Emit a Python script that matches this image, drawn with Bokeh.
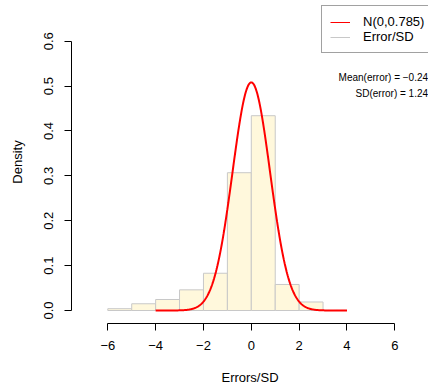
import numpy as np
from bokeh.plotting import figure
from bokeh.models import (Range1d, FixedTicker, Legend, LegendItem, Label,
                          PrintfTickFormatter, LinearAxis, ColumnDataSource)
from bokeh.embed import file_html
from bokeh.resources import INLINE

# ---- data ----
bin_left = [-6, -5, -4, -3, -2, -1, 0, 1, 2]
bin_right = [-5, -4, -3, -2, -1, 0, 1, 2, 3]
density = [0.004, 0.015, 0.0245, 0.046, 0.083, 0.307, 0.434, 0.058, 0.019]

norm_mean = 0.0
norm_sd = 0.785
curve_from, curve_to = -4, 4

mean_error = "−0.24"
sd_error = "1.24"

x_ticks = [-6, -4, -2, 0, 2, 4, 6]
x_tick_labels = ["−6", "−4", "−2", "0", "2", "4", "6"]
y_ticks = [0.0, 0.1, 0.2, 0.3, 0.4, 0.5, 0.6]

legend_labels = ["N(0,0.785)", "Error/SD"]

FONT = "Liberation Sans"

p = figure(frame_width=357, frame_height=323,
           min_border_left=71, min_border_right=0,
           min_border_top=0, min_border_bottom=61,
           x_range=Range1d(-7.517, 7.408), y_range=Range1d(-0.02897, 0.6907),
           x_axis_type=None, y_axis_type=None,
           output_backend="svg", toolbar_location=None)
p.outline_line_color = None
p.background_fill_color = "white"
p.border_fill_color = "white"

hist = ColumnDataSource(dict(left=bin_left, right=bin_right,
                             top=density, bottom=[0] * len(density)))
p.quad(left="left", right="right", top="top", bottom="bottom", source=hist,
       fill_color="#FFF8DC", line_color="#C8C8C8", line_width=1)

xs = np.linspace(curve_from, curve_to, 401)
ys = np.exp(-0.5 * ((xs - norm_mean) / norm_sd) ** 2) / (norm_sd * np.sqrt(2 * np.pi))
curve = p.line(xs, ys, line_color="#FF0000", line_width=2)

# legend keys (thin lines, as drawn in the original legend)
key_curve = p.line(x=[0], y=[-1], line_color="#FF0000", line_width=1)
key_hist = p.line(x=[0], y=[-1], line_color="#C8C8C8", line_width=1)


def style_axis(ax):
    ax.axis_line_color = "black"
    ax.major_tick_line_color = "black"
    ax.minor_tick_line_color = None
    ax.major_tick_in = 0
    ax.major_tick_out = 7
    ax.major_label_text_font = FONT
    ax.major_label_text_font_size = "13px"
    ax.major_label_text_color = "black"
    ax.axis_label_text_font = FONT
    ax.axis_label_text_font_size = "13px"
    ax.axis_label_text_font_style = "normal"
    ax.axis_label_text_color = "black"


xaxis = LinearAxis(ticker=FixedTicker(ticks=x_ticks), bounds=(-6, 6),
                   axis_label="Errors/SD")
xaxis.major_label_overrides = {t: l for t, l in zip(x_ticks, x_tick_labels)}
style_axis(xaxis)
xaxis.major_label_standoff = 10
xaxis.axis_label_standoff = 17
p.add_layout(xaxis, "below")

yaxis = LinearAxis(ticker=FixedTicker(ticks=y_ticks), bounds=(0, 0.6),
                   formatter=PrintfTickFormatter(format="%.1f"),
                   axis_label="Density")
style_axis(yaxis)
yaxis.major_label_orientation = "vertical"
yaxis.major_label_standoff = 11
yaxis.axis_label_standoff = 17
p.add_layout(yaxis, "left")

legend = Legend(items=[LegendItem(label=legend_labels[0], renderers=[key_curve]),
                       LegendItem(label=legend_labels[1], renderers=[key_hist])],
                location=(250, 270), orientation="vertical",
                padding=8, margin=0, spacing=0,
                glyph_width=20, glyph_height=14, label_height=14,
                label_standoff=13,
                label_text_font=FONT, label_text_font_size="13px",
                label_text_color="black",
                border_line_color="#444444", border_line_width=1,
                background_fill_color="white", background_fill_alpha=1)
p.add_layout(legend)

p.add_layout(Label(x=7.39, y=0.52, text="Mean(error) = " + mean_error,
                   text_align="right", text_baseline="middle",
                   text_font=FONT, text_font_size="10px", text_color="black"))
p.add_layout(Label(x=7.39, y=0.4845, text="SD(error) = " + sd_error,
                   text_align="right", text_baseline="middle",
                   text_font=FONT, text_font_size="10px", text_color="black"))

open("out.html", "w").write(file_html(p, INLINE))
